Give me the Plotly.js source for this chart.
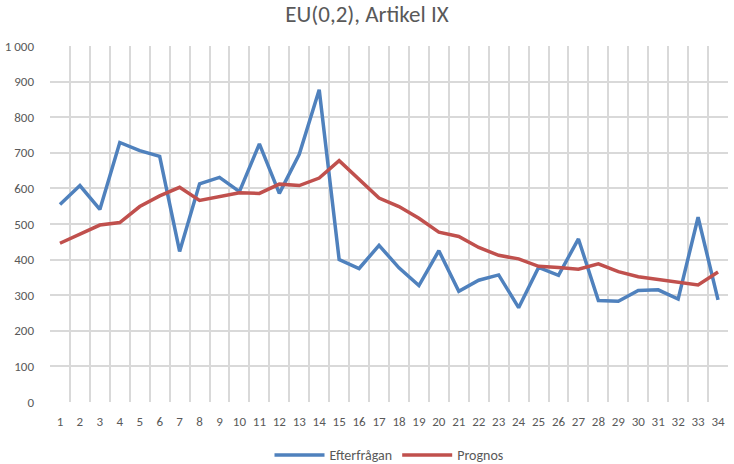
<!DOCTYPE html>
<html>
<head>
<meta charset="utf-8">
<script src="https://cdn.plot.ly/plotly-3.0.1.min.js"></script>
<style>html,body{margin:0;padding:0;background:#fff;}#chart{width:734px;height:464px;}</style>
</head>
<body>
<div id="chart"></div>
<script>
var categories = ['1','2','3','4','5','6','7','8','9','10','11','12','13','14','15','16','17','18','19','20','21','22','23','24','25','26','27','28','29','30','31','32','33','34'];
var efterfragan = [555, 608, 541, 729, 706, 690, 423, 613, 631, 591, 725, 586, 696, 877, 400, 375, 440, 377, 327, 425, 311, 342, 357, 265, 378, 356, 458, 285, 283, 313, 315, 289, 519, 287];
var prognos = [446, 471, 497, 504, 549, 579, 603, 566, 577, 588, 586, 612, 608, 629, 678, 624, 573, 549, 516, 477, 465, 434, 412, 402, 381, 378, 373, 388, 366, 352, 345, 338, 329, 365];
var yTicks = [0, 100, 200, 300, 400, 500, 600, 700, 800, 900, 1000];

var fontFam = "Carlito, Calibri, 'Liberation Sans Narrow', 'Open Sans', sans-serif";

var data = [
  {x: categories, y: efterfragan, type: 'scatter', mode: 'lines', name: 'Efterfrågan',
   line: {color: '#4F81BD', width: 3.5}},
  {x: categories, y: prognos, type: 'scatter', mode: 'lines', name: 'Prognos',
   line: {color: '#C0504D', width: 3.5}}
];

var layout = {
  width: 734, height: 464,
  paper_bgcolor: '#fff', plot_bgcolor: '#fff',
  separators: ', ',
  font: {family: fontFam, color: '#595959', size: 13},
  title: {text: 'EU(0,2), Artikel IX', x: 0.5, xanchor: 'center', y: 0.969, yanchor: 'middle',
          font: {family: fontFam, size: 23, color: '#595959'}},
  margin: {l: 50, r: 6, t: 46, b: 62, autoexpand: false},
  showlegend: true,
  legend: {orientation: 'h', x: 0.5, xanchor: 'center', y: -0.105, yanchor: 'top',
           font: {family: fontFam, size: 14, color: '#595959'}, itemwidth: 50},
  xaxis: {type: 'category', tickson: 'boundaries', showgrid: true, gridcolor: '#D9D9D9', gridwidth: 2,
          ticks: '', showline: false, zeroline: false, tickangle: 0, ticklabelstandoff: 10,
          tickfont: {size: 13, color: '#595959'}, range: [-0.5, 33.5]},
  yaxis: {range: [0, 1000], tickvals: yTicks, separatethousands: true, showgrid: true,
          gridcolor: '#D9D9D9', gridwidth: 2, zeroline: false, showline: false, ticks: '',
          ticklabelstandoff: 15, tickfont: {size: 13, color: '#595959'}}
};

Plotly.newPlot('chart', data, layout, {displayModeBar: false, staticPlot: true});
</script>
</body>
</html>
